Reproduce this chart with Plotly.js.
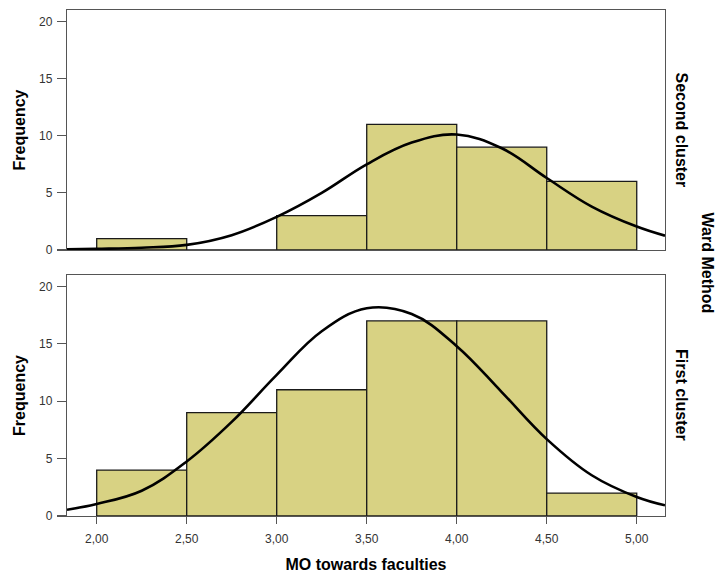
<!DOCTYPE html>
<html>
<head>
<meta charset="utf-8">
<script src="https://cdn.plot.ly/plotly-3.0.1.min.js"></script>
<style>html,body{margin:0;padding:0;background:#fff}#chart{width:715px;height:573px}</style>
</head>
<body>
<div id="chart"></div>
<script>
// Histogram bins (MO towards faculties)
const binStarts = [2.0, 2.5, 3.0, 3.5, 4.0, 4.5];
const binWidth = 0.5;
const countsSecond = [1, 0, 3, 11, 9, 6];
const countsFirst = [4, 9, 11, 17, 17, 2];

// Normal curves
const curveX = [1.835, 2.0, 2.25, 2.5, 2.75, 3.0, 3.25, 3.5, 3.75, 4.0, 4.25, 4.5, 4.75, 5.0, 5.157];
const curveSecond = [0.05, 0.1, 0.2, 0.45, 1.3, 2.9, 5.0, 7.5, 9.4, 10.1, 8.9, 6.3, 3.8, 2.05, 1.25];
const curveFirst = [0.55, 1.05, 2.2, 4.75, 8.2, 12.3, 16.1, 18.1, 17.6, 14.8, 10.8, 6.7, 3.55, 1.66, 0.93];

const xTickVals = [2.0, 2.5, 3.0, 3.5, 4.0, 4.5, 5.0];
const xTickText = ["2,00", "2,50", "3,00", "3,50", "4,00", "4,50", "5,00"];
const yTickVals = [0, 5, 10, 15, 20];

const panelTitles = ["Second cluster", "First cluster"];
const groupTitle = "Ward Method";
const xTitle = "MO towards faculties";
const yTitle = "Frequency";

const barFill = "#D8D283";
const centers = binStarts.map(s => s + binWidth / 2);

const barStyle = {
  type: "bar",
  width: binWidth,
  marker: { color: barFill, line: { color: "#1a1a1a", width: 1.3 } },
  hoverinfo: "x+y",
  showlegend: false
};

const traces = [
  Object.assign({}, barStyle, { x: centers, y: countsSecond, xaxis: "x2", yaxis: "y2", name: panelTitles[0] }),
  { type: "scatter", mode: "lines", x: curveX, y: curveSecond, xaxis: "x2", yaxis: "y2",
    line: { color: "#000", width: 2.6, shape: "spline", smoothing: 1.1 }, showlegend: false, hoverinfo: "skip" },
  Object.assign({}, barStyle, { x: centers, y: countsFirst, xaxis: "x", yaxis: "y", name: panelTitles[1] }),
  { type: "scatter", mode: "lines", x: curveX, y: curveFirst, xaxis: "x", yaxis: "y",
    line: { color: "#000", width: 2.6, shape: "spline", smoothing: 1.1 }, showlegend: false, hoverinfo: "skip" }
];

const fontFam = "Liberation Sans, Arial, sans-serif";
const frame = { showline: true, mirror: true, linecolor: "#555", linewidth: 1.2, showgrid: false, zeroline: false };

const yAxisBase = Object.assign({}, frame, {
  range: [0, 21],
  tickvals: yTickVals,
  ticks: "outside", ticklen: 9, tickcolor: "#555", tickwidth: 1.2,
  ticklabelstandoff: 2,
  tickfont: { family: fontFam, size: 12, color: "#333" },
  title: { text: yTitle, font: { family: fontFam, size: 16, color: "#000", weight: "bold" }, standoff: 9 }
});

const layout = {
  width: 715, height: 573,
  margin: { l: 67, r: 50, t: 10, b: 57 },
  paper_bgcolor: "#fff", plot_bgcolor: "#fff",
  bargap: 0,
  font: { family: fontFam },
  xaxis: Object.assign({}, frame, {
    anchor: "y", range: [1.835, 5.157],
    tickvals: xTickVals, ticktext: xTickText,
    ticks: "outside", ticklen: 7, tickcolor: "#555", tickwidth: 1,
    ticklabelstandoff: 4,
    tickfont: { family: fontFam, size: 12, color: "#333" },
    title: { text: xTitle, font: { family: fontFam, size: 16, color: "#000", weight: "bold" }, standoff: 14 }
  }),
  xaxis2: Object.assign({}, frame, {
    anchor: "y2", matches: "x", range: [1.835, 5.157],
    showticklabels: false, ticks: ""
  }),
  yaxis: Object.assign({}, yAxisBase, { domain: [0, 0.4763], anchor: "x" }),
  yaxis2: Object.assign({}, yAxisBase, { domain: [0.5257, 1], anchor: "x2" }),
  annotations: [
    { text: panelTitles[0], xref: "paper", yref: "paper", x: 1.01, y: 0.7628, xanchor: "left", yanchor: "middle",
      textangle: 90, showarrow: false, font: { family: fontFam, size: 16, color: "#000", weight: "bold" } },
    { text: panelTitles[1], xref: "paper", yref: "paper", x: 1.01, y: 0.2381, xanchor: "left", yanchor: "middle",
      textangle: 90, showarrow: false, font: { family: fontFam, size: 16, color: "#000", weight: "bold" } },
    { text: groupTitle, xref: "paper", yref: "paper", x: 1.055, y: 0.50, xanchor: "left", yanchor: "middle",
      textangle: 90, showarrow: false, font: { family: fontFam, size: 16, color: "#000", weight: "bold" } }
  ]
};

Plotly.newPlot("chart", traces, layout, { displayModeBar: false, staticPlot: true });
</script>
</body>
</html>
